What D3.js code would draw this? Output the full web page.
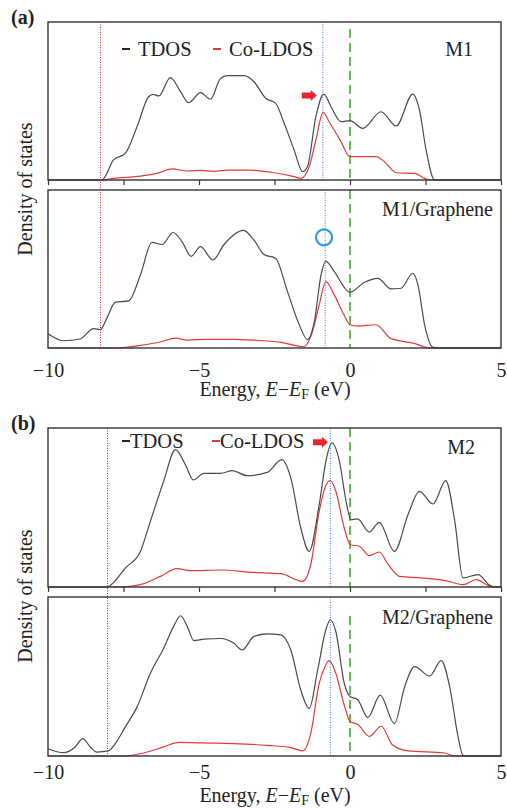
<!DOCTYPE html>
<html><head><meta charset="utf-8">
<script src="https://cdn.jsdelivr.net/npm/d3@7"></script>
<style>body{margin:0;background:#fff}svg{display:block}text{font-family:"Liberation Serif","Times New Roman",serif;fill:#222}</style>
</head><body><svg id="c" width="507" height="809"></svg>
<script>
// ---------- DATA (energy eV, DOS in % of panel height) ----------
const xTicks = [-10,-7.5,-5,-2.5,0,2.5,5];
const xTickLabels = [-10,-5,0,5];

const m1Tdos = [[-10,0],[-8.22,0],[-7.83,12.7],[-7.44,16.9],[-7.05,33.8],[-6.67,52.7],[-6.52,54.2],[-6.33,53.2],[-5.95,64.8],[-5.61,55.9],[-5.34,48.9],[-4.95,55.3],[-4.62,51.1],[-4.29,64.3],[-4.06,66.0],[-3.51,66.0],[-3.18,62.2],[-2.79,51.7],[-2.46,48.5],[-2.18,35.9],[-1.85,19.0],[-1.57,5.3],[-1.41,8.4],[-1.13,40.1],[-0.87,54.4],[-0.63,46.4],[-0.30,36.9],[0.0,37.6],[0.42,32.7],[1.03,43.2],[1.53,34.2],[2.08,54.4],[2.30,44.3],[2.52,19.0],[2.80,0],[5,0]];
const m1Co = [[-10,0],[-8.2,0],[-7.83,1.0],[-6.94,2.5],[-6.39,4.2],[-5.89,7.0],[-5.39,5.7],[-4.95,6.1],[-4.51,5.5],[-4.06,6.3],[-3.40,6.3],[-2.51,4.6],[-1.85,2.1],[-1.63,1.0],[-1.35,8.4],[-1.13,25.3],[-0.89,42.8],[-0.69,36.9],[-0.30,24.3],[0.0,14.8],[0.20,14.8],[0.86,14.8],[1.14,11.6],[1.53,4.6],[2.14,4.2],[2.47,1.0],[2.64,0],[5,0]];

const m1gTdos = [[-10,9.0],[-9.49,4.6],[-8.94,5.7],[-8.49,12.2],[-8.27,11.6],[-8.05,18.9],[-7.77,29.0],[-7.33,29.8],[-6.94,46.2],[-6.56,66.8],[-6.22,65.5],[-5.86,73.1],[-5.56,67.2],[-5.26,58.0],[-4.95,64.1],[-4.54,55.7],[-4.17,65.5],[-3.53,74.4],[-3.18,68.3],[-2.85,59.2],[-2.46,56.7],[-2.07,35.7],[-1.68,14.7],[-1.41,5.3],[-1.18,16.8],[-0.96,46.2],[-0.80,55.0],[-0.52,48.3],[0.0,35.3],[0.48,41.6],[0.92,44.1],[1.36,37.4],[1.69,37.8],[2.08,47.3],[2.25,39.9],[2.47,14.7],[2.75,0.4],[2.9,0],[5,0]];
const m1gCo = [[-10,0],[-7.83,0],[-6.94,1.7],[-6.28,3.8],[-5.78,6.3],[-5.39,5.0],[-4.73,5.5],[-3.84,5.5],[-3.18,5.0],[-2.29,3.6],[-1.52,0.8],[-1.24,10.5],[-1.02,27.3],[-0.80,42.0],[-0.52,33.6],[-0.20,21.0],[0.0,14.7],[0.25,13.9],[0.86,14.7],[1.36,5.9],[2.14,2.9],[2.52,0.4],[2.69,0],[5,0]];

const m2Tdos = [[-10,0],[-8.1,0],[-7.94,1.0],[-7.44,11.9],[-6.94,22.4],[-6.61,41.3],[-6.17,66.5],[-5.78,86.4],[-5.45,76.9],[-5.19,67.3],[-4.84,71.5],[-4.29,71.5],[-3.90,73.2],[-3.40,70.0],[-2.74,72.1],[-2.26,80.1],[-1.96,68.6],[-1.63,37.1],[-1.35,22.4],[-1.02,51.8],[-0.80,79.0],[-0.60,90.6],[-0.35,79.0],[-0.13,53.9],[0.03,42.3],[0.25,42.8],[0.64,34.6],[0.97,40.7],[1.47,22.4],[1.92,45.5],[2.30,60.2],[2.75,52.2],[3.17,66.9],[3.47,41.3],[3.74,5.7],[4.24,7.8],[4.63,1.0],[4.80,0],[5,0]];
const m2Co = [[-10,0],[-7.61,0],[-6.94,1.5],[-6.28,6.7],[-5.73,11.5],[-5.29,10.3],[-4.29,10.7],[-3.18,9.2],[-2.29,8.4],[-1.57,3.6],[-1.30,14.0],[-1.02,47.6],[-0.80,63.9],[-0.65,66.9],[-0.47,60.2],[-0.19,37.1],[0.01,26.6],[0.31,25.6],[0.64,19.7],[0.97,22.0],[1.25,14.5],[1.64,6.7],[2.36,5.7],[3.13,4.2],[3.74,1.5],[4.18,4.6],[4.57,1.0],[4.74,0],[5,0]];

const m2gTdos = [[-10,4.6],[-9.49,2.1],[-9.10,5.7],[-8.85,10.9],[-8.60,5.7],[-8.38,2.5],[-8.00,3.2],[-7.77,7.8],[-7.44,18.3],[-7.05,30.9],[-6.61,52.0],[-6.17,67.8],[-5.84,81.5],[-5.61,88.2],[-5.39,81.5],[-5.17,72.6],[-4.84,73.5],[-4.29,73.9],[-3.84,70.9],[-3.57,66.7],[-3.18,75.2],[-2.74,76.8],[-2.29,76.2],[-1.96,66.7],[-1.63,41.5],[-1.35,29.9],[-1.07,54.1],[-0.80,79.4],[-0.65,85.7],[-0.47,78.3],[-0.19,45.7],[0.01,37.3],[0.25,35.6],[0.59,24.2],[1.0,38.3],[1.47,20.4],[1.81,43.6],[2.14,56.2],[2.64,50.3],[3.02,60.0],[3.30,43.6],[3.58,12.0],[3.74,0.4],[3.91,0],[5,0]];
const m2gCo = [[-10,0],[-7.50,0],[-6.83,1.9],[-6.17,5.7],[-5.67,8.6],[-4.95,8.2],[-3.84,7.8],[-2.74,6.7],[-1.96,5.3],[-1.57,3.2],[-1.30,14.1],[-1.02,45.7],[-0.83,56.2],[-0.69,60.0],[-0.47,52.0],[-0.19,32.0],[0.01,21.5],[0.25,20.0],[0.64,12.4],[1.03,18.7],[1.42,6.7],[1.92,3.2],[3.13,1.9],[3.47,0],[5,0]];

const panelNames = ["M1","M1/Graphene","M2","M2/Graphene"];
const redLineE = [-8.26,-8.26,-8.03,-8.03];
const blueLineE = [-0.90,-0.82,-0.65,-0.65];
const greenStart = [95.5,100,100,88];  // % height where green dashed line starts
const legendLabels = ["TDOS","Co-LDOS"];
const arrowTips = [[-1.10,53.5],null,[-0.73,91]];  // [E, %]
const circleMark = [-0.86,70];

// ---------- LAYOUT ----------
const svg = d3.select("#c");
const L = 48, R = 501;
const panels = [
  {top:22, bottom:180, tdos:m1Tdos, co:m1Co, nameX:473, nameY:34, tickY:29, labY:48},
  {top:190, bottom:348, tdos:m1gTdos, co:m1gCo, nameX:493, nameY:26, tickY:29, labY:48},
  {top:428, bottom:587, tdos:m2Tdos, co:m2Co, nameX:475, nameY:26, tickY:29, labY:48},
  {top:597, bottom:756, tdos:m2gTdos, co:m2gCo, nameX:493, nameY:27, tickY:23, labY:46}
];
const x = d3.scaleLinear().domain([-10,5]).range([L,R]);

panels.forEach((p,i)=>{
  const y = d3.scaleLinear().domain([0,100]).range([p.bottom,p.top]);
  p.y = y;
  const g = svg.append("g");
  const line = d3.line().x(d=>x(d[0])).y(d=>y(d[1])).curve(d3.curveMonotoneX);
  g.append("line").attr("x1",x(0)).attr("x2",x(0))
    .attr("y1",y(greenStart[i])).attr("y2",p.bottom)
    .attr("stroke","#62bd55").attr("stroke-width",2).attr("stroke-dasharray","9,5");
  g.append("path").attr("d",line(p.co)).attr("fill","none").attr("stroke","#e23a3a").attr("stroke-width",1.2);
  g.append("path").attr("d",line(p.tdos)).attr("fill","none").attr("stroke","#4a4a4a").attr("stroke-width",1.2);
  g.append("line").attr("x1",x(blueLineE[i])).attr("x2",x(blueLineE[i]))
    .attr("y1",p.top).attr("y2",p.bottom)
    .attr("stroke","#4a78c8").attr("stroke-width",1).attr("stroke-dasharray","1,1.5");
  g.append("rect").attr("x",L).attr("y",p.top).attr("width",R-L).attr("height",p.bottom-p.top)
    .attr("fill","none").attr("stroke","#333").attr("stroke-width",1.4);
  g.append("text").attr("x",p.nameX).attr("y",p.top+p.nameY)
    .attr("text-anchor","end").attr("font-size",20).text(panelNames[i]);
  if(i%2===0){
    const ax = d3.axisBottom(x).tickValues(xTicks).tickSize(5).tickFormat("");
    const ag = g.append("g").attr("transform",`translate(0,${p.bottom})`).call(ax);
    ag.select(".domain").remove();
    ag.selectAll("line").attr("stroke","#333").attr("stroke-width",1.2);
  } else {
    const ax = d3.axisBottom(x).tickValues(xTickLabels).tickSize(0).tickPadding(0)
      .tickFormat(d=>d<0?"\u2212"+Math.abs(d):d);
    const ag = g.append("g").attr("transform",`translate(0,${p.bottom})`).call(ax);
    ag.select(".domain").remove();
    ag.selectAll("text").attr("font-size",20).attr("dy",0).attr("y",p.tickY)
      .style("font-family","Liberation Serif").attr("fill","#222");
    const t = g.append("text").attr("x",275).attr("y",p.bottom+p.labY).attr("text-anchor","middle").attr("font-size",20);
    t.append("tspan").text("Energy, ");
    t.append("tspan").attr("font-style","italic").text("E");
    t.append("tspan").text("\u2212");
    t.append("tspan").attr("font-style","italic").text("E");
    t.append("tspan").attr("font-size",14).attr("dy",3).text("F");
    t.append("tspan").attr("dy",-3).text(" (eV)");
  }
});

[[0,1],[2,3]].forEach(([a,b])=>{
  svg.append("line").attr("x1",x(redLineE[a])).attr("x2",x(redLineE[a]))
    .attr("y1",panels[a].top).attr("y2",panels[b].bottom)
    .attr("stroke","#c8202a").attr("stroke-width",1).attr("stroke-dasharray","1,1.5");
  const cy = (panels[a].top + panels[b].bottom)/2 + 4;
  svg.append("text").attr("transform",`translate(32,${cy}) rotate(-90)`)
    .attr("text-anchor","middle").attr("font-size",20).text("Density of states");
});

svg.append("text").attr("x",11).attr("y",24).attr("font-size",20).attr("font-weight","bold").text("(a)");
svg.append("text").attr("x",11).attr("y",430).attr("font-size",20).attr("font-weight","bold").text("(b)");

[[0,122,138,213,229,56],[2,122,130,212,220,448]].forEach(([pi,bx,bt,rx,rt,by])=>{
  svg.append("line").attr("x1",bx).attr("x2",bx+8).attr("y1",by-7).attr("y2",by-7).attr("stroke","#222").attr("stroke-width",2);
  svg.append("text").attr("x",bt).attr("y",by).attr("font-size",20.5).text(legendLabels[0]);
  svg.append("line").attr("x1",rx).attr("x2",rx+8).attr("y1",by-7).attr("y2",by-7).attr("stroke","#e23a3a").attr("stroke-width",2);
  svg.append("text").attr("x",rt).attr("y",by).attr("font-size",20.5).text(legendLabels[1]);
});

arrowTips.forEach((a,i)=>{
  if(!a) return;
  const p = panels[i];
  const tx = x(a[0]), ty = p.y(a[1]);
  const pts = [[tx,ty],[tx-6,ty-5.5],[tx-6,ty-3],[tx-15,ty-3],[tx-15,ty+3],[tx-6,ty+3],[tx-6,ty+5.5]];
  svg.append("polygon").attr("points",pts.map(d=>d.join(",")).join(" ")).attr("fill","#e8232b");
});
svg.append("circle").attr("cx",x(circleMark[0])).attr("cy",panels[1].y(circleMark[1])).attr("r",8)
  .attr("fill","none").attr("stroke","#2a9fd6").attr("stroke-width",2.2);
</script></body></html>
